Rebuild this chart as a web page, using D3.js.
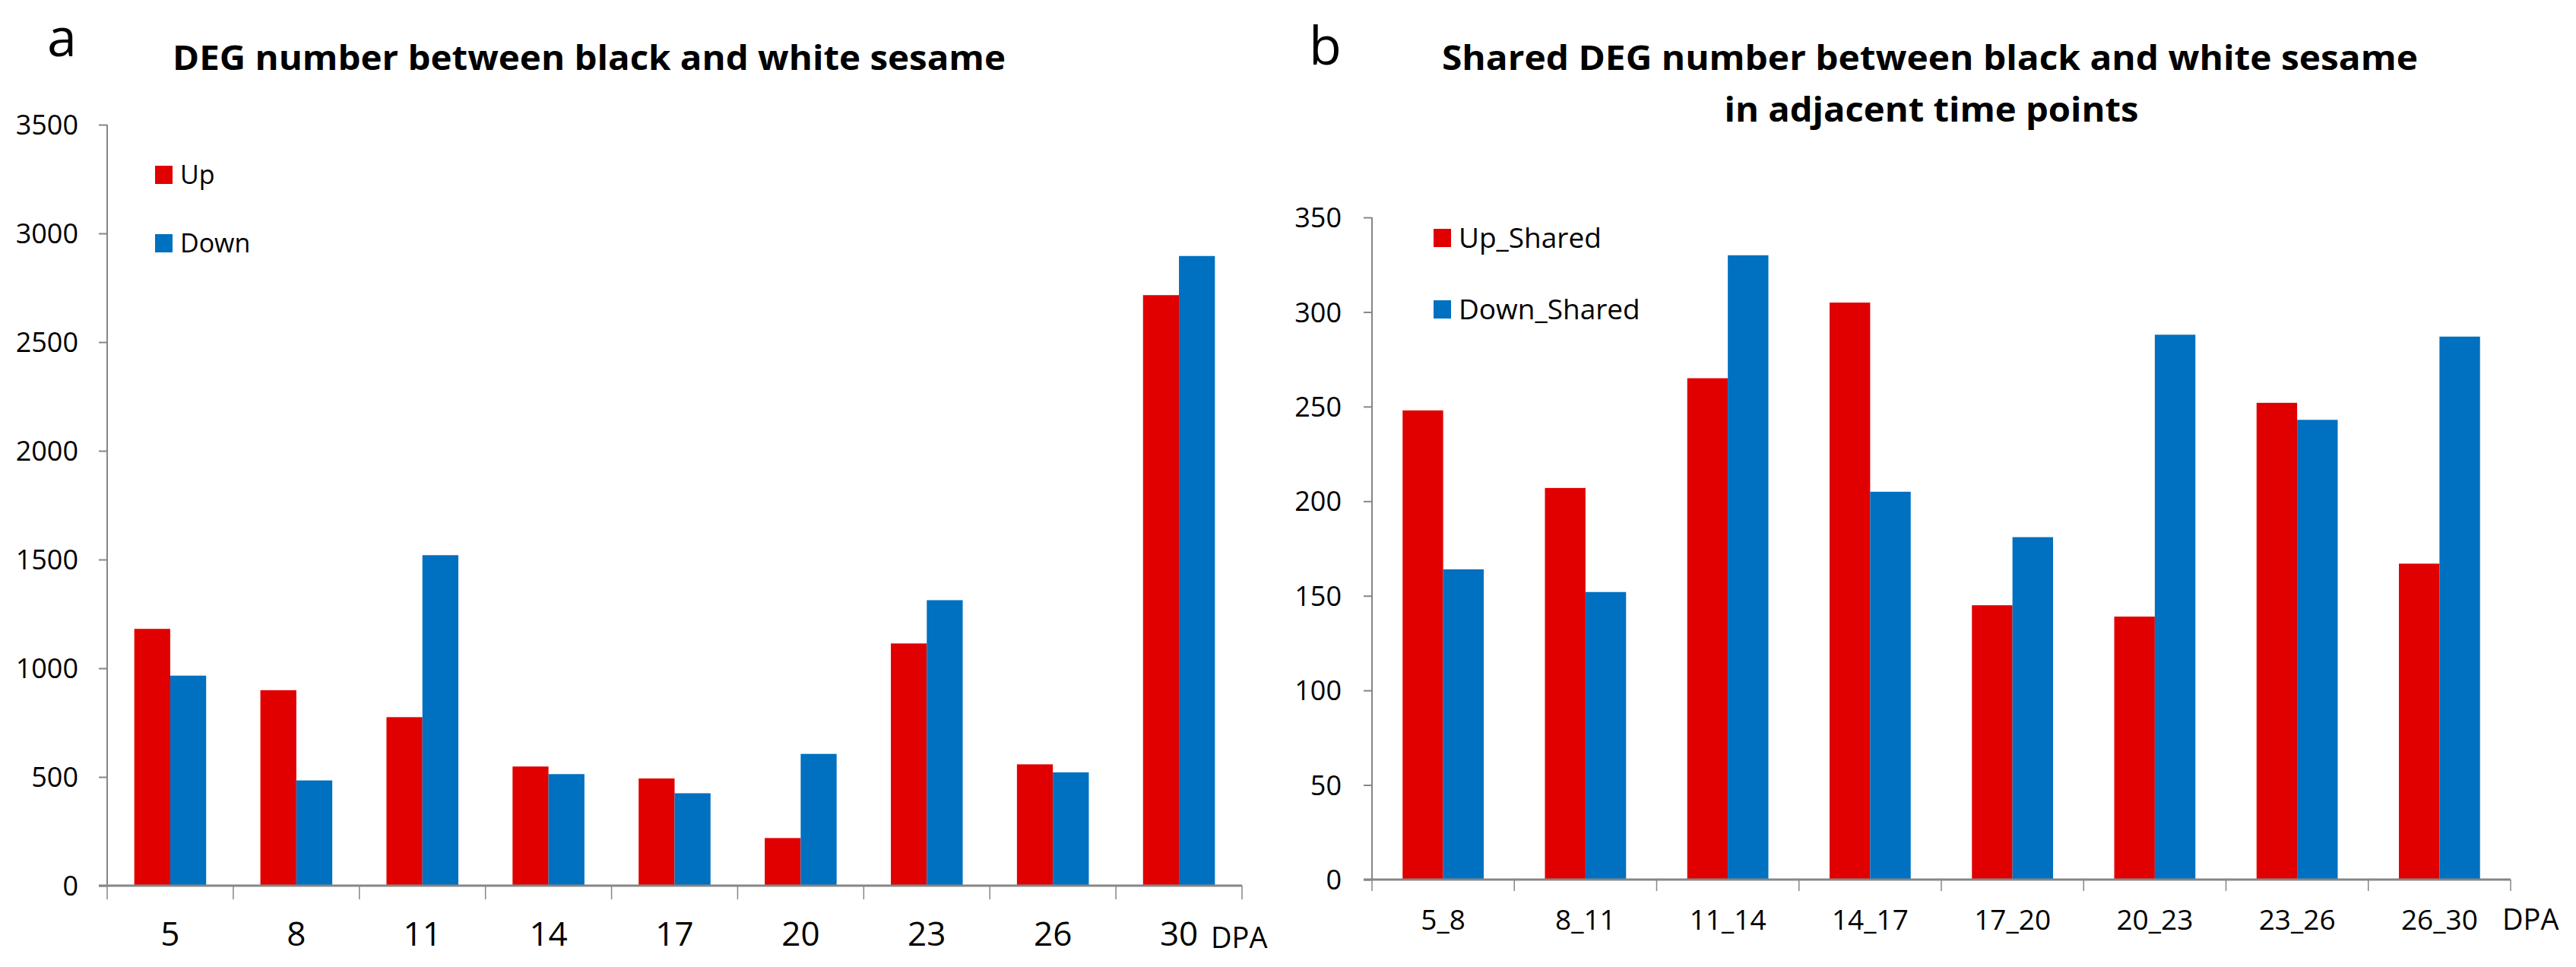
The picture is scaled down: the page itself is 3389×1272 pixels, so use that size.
<!DOCTYPE html>
<html>
<head>
<meta charset="utf-8">
<script src="https://cdn.jsdelivr.net/npm/d3@7"></script>
<style>
  body { margin: 0; background: #fff; }
  text { font-family: "Open Sans", "Noto Sans", sans-serif; fill: #000; }
</style>
</head>
<body>
<svg id="fig" width="3389" height="1272"></svg>
<script>
// 数据：a 图
const daysA = ["5", "8", "11", "14", "17", "20", "23", "26", "30"];
const upA = [1181, 899, 775, 548, 493, 219, 1114, 558, 2716];
const downA = [966, 484, 1520, 513, 425, 606, 1313, 521, 2896];
const ticksA = [0, 500, 1000, 1500, 2000, 2500, 3000, 3500];

// 数据：b 图
const pairsB = ["5_8", "8_11", "11_14", "14_17", "17_20", "20_23", "23_26", "26_30"];
const upB = [248, 207, 265, 305, 145, 139, 252, 167];
const downB = [164, 152, 330, 205, 181, 288, 243, 287];
const ticksB = [0, 50, 100, 150, 200, 250, 300, 350];

const RED = "#e00000", BLUE = "#0070c0", GREY = "#868686";

const svg = d3.select("#fig");

function drawPanel(opt) {
    const g = svg.append("g");
    const x0 = d3.scaleBand().domain(opt.cats).range([opt.left, opt.right]).padding(0);
    const x1 = d3.scaleBand().domain(["up", "down"])
        .range([x0.bandwidth() * 0.215, x0.bandwidth() * 0.785]);
    const y = d3.scaleLinear().domain([0, d3.max(opt.ticks)]).range([opt.bottom, opt.top]);

    const rows = opt.cats.map((c, i) => ({cat: c, up: opt.up[i], down: opt.down[i]}));

    // 柱子
    g.selectAll(".grp").data(rows).enter().append("g")
        .attr("transform", d => `translate(${x0(d.cat)},0)`)
        .selectAll("rect")
        .data(d => [{k: "up", v: d.up}, {k: "down", v: d.down}])
        .enter().append("rect")
        .attr("x", d => x1(d.k))
        .attr("y", d => y(d.v))
        .attr("width", x1.bandwidth())
        .attr("height", d => opt.bottom - y(d.v))
        .attr("fill", d => d.k === "up" ? RED : BLUE);

    // 纵轴，整数不带千分位
    const yAxis = g.append("g")
        .attr("transform", `translate(${opt.left},0)`)
        .call(d3.axisLeft(y).tickValues(opt.ticks).tickFormat(d3.format("d"))
            .tickSize(11).tickPadding(opt.yPad));
    yAxis.select(".domain").attr("stroke", GREY).attr("stroke-width", 2)
        .attr("d", `M0,${opt.top}V${opt.bottom}`);
    yAxis.selectAll(".tick line").attr("stroke", GREY).attr("stroke-width", 2);
    yAxis.selectAll(".tick text").style("font-size", "36px").attr("dy", "0.35em");

    // 横轴
    const xAxis = g.append("g")
        .attr("transform", `translate(0,${opt.bottom})`)
        .call(d3.axisBottom(x0).tickSize(0).tickPadding(opt.xPad));
    xAxis.select(".domain").attr("stroke", GREY).attr("stroke-width", 3)
        .attr("d", `M${opt.left - 11},0H${opt.right}`);
    xAxis.selectAll(".tick text").style("font-size", opt.xFont + "px");
    // 分隔刻度
    const edges = opt.cats.map(c => x0(c)).concat([opt.right]);
    xAxis.selectAll(".sep").data(edges).enter().append("line")
        .attr("x1", d => d).attr("x2", d => d)
        .attr("y1", 0).attr("y2", opt.sepLen)
        .attr("stroke", GREY).attr("stroke-width", 1.5);

    g.append("text")
        .attr("x", opt.dpaX).attr("y", opt.dpaY)
        .style("font-size", "38px")
        .text("DPA");

    // 图例
    opt.legend.forEach((name, i) => {
        const ly = opt.legY[i];
        g.append("rect")
            .attr("x", opt.legX).attr("y", ly - 12)
            .attr("width", 23).attr("height", 24)
            .attr("fill", i === 0 ? RED : BLUE);
        g.append("text")
            .attr("x", opt.legX + 33).attr("y", ly)
            .attr("dy", "0.35em")
            .style("font-size", opt.legFont + "px")
            .text(name);
    });
}

drawPanel({
    cats: daysA, up: upA, down: downA, ticks: ticksA,
    left: 141, right: 1634, top: 164, bottom: 1165,
    yPad: 27, xPad: 48, xFont: 44, sepLen: 18,
    dpaX: 1593, dpaY: 1247,
    legend: ["Up", "Down"], legX: 204, legY: [230, 320], legFont: 34
});

drawPanel({
    cats: pairsB, up: upB, down: downB, ticks: ticksB,
    left: 1805, right: 3303, top: 286, bottom: 1157,
    yPad: 29, xPad: 40, xFont: 37, sepLen: 15,
    dpaX: 3292, dpaY: 1223,
    legend: ["Up_Shared", "Down_Shared"], legX: 1886, legY: [313, 407], legFont: 37
});

// 面板字母
svg.append("text").attr("x", 62).attr("y", 74)
    .style("font-size", "70px").text("a");
svg.append("text").attr("x", 1722).attr("y", 85)
    .style("font-size", "70px").text("b");

// 标题（按原图宽度拉伸）
function title(txt, cx, by, len) {
    svg.append("text").attr("x", cx - len / 2).attr("y", by)
        .attr("textLength", len).attr("lengthAdjust", "spacingAndGlyphs")
        .style("font-size", "45px").style("font-weight", "bold")
        .text(txt);
}
title("DEG number between black and white sesame", 775, 92, 1096);
title("Shared DEG number between black and white sesame", 2539, 92, 1284);
title("in adjacent time points", 2541, 160, 545);
</script>
</body>
</html>
